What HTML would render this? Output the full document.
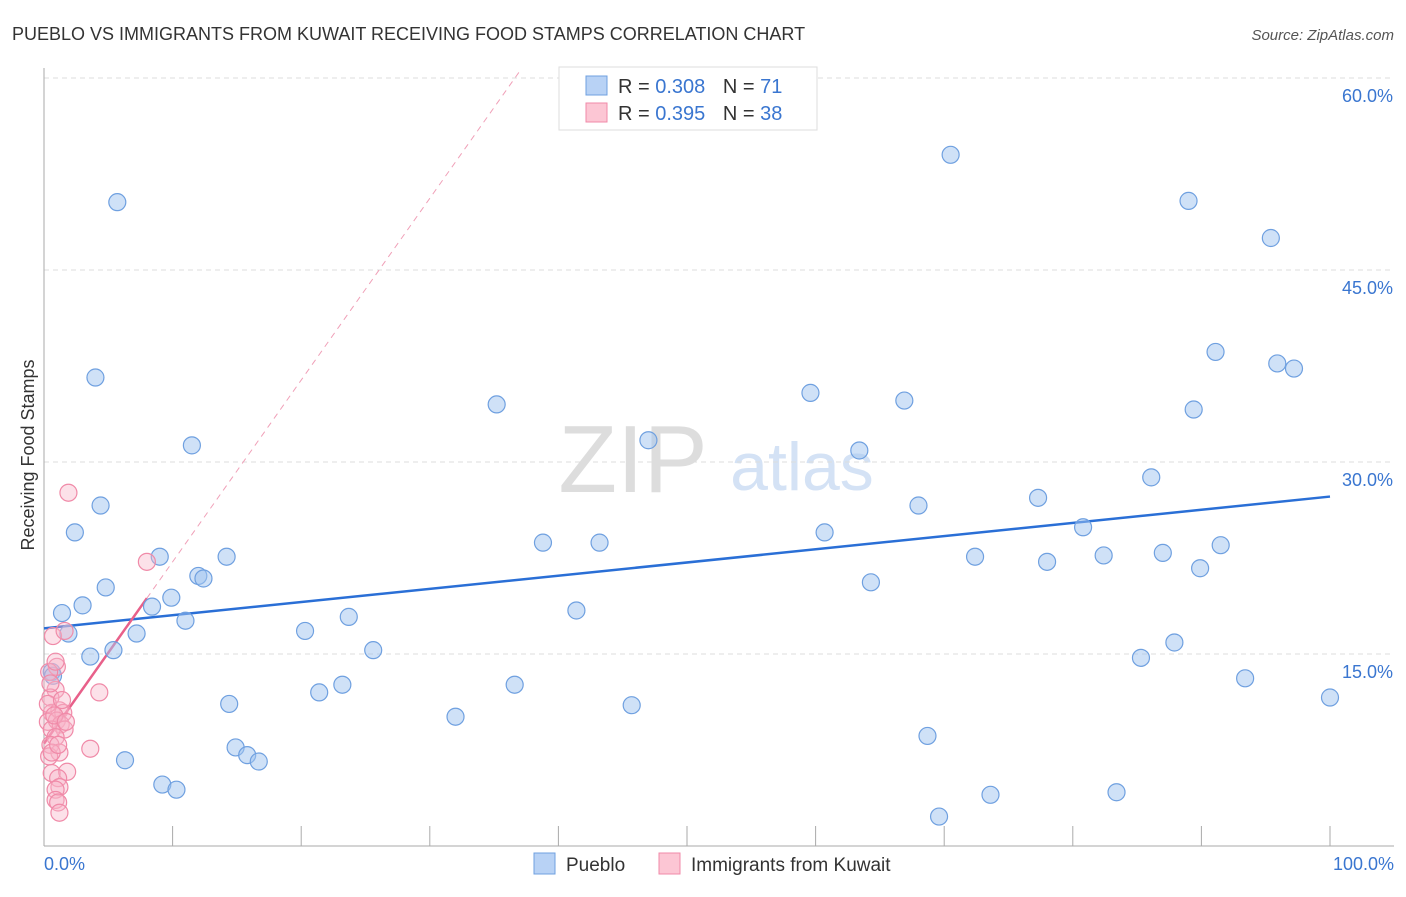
<!DOCTYPE html>
<html><head><meta charset="utf-8"><style>
body{margin:0;background:#fff;font-family:"Liberation Sans",sans-serif}
svg text{font-family:"Liberation Sans",sans-serif}
</style></head><body>
<svg id="chart" width="1406" height="892" xmlns="http://www.w3.org/2000/svg">
<text x="12" y="40" font-size="18" fill="#333">PUEBLO VS IMMIGRANTS FROM KUWAIT RECEIVING FOOD STAMPS CORRELATION CHART</text>
<text x="1394" y="40" font-size="15" fill="#555" text-anchor="end" font-style="italic">Source: ZipAtlas.com</text>
<text x="633" y="492" font-size="96" fill="#ddd" text-anchor="middle" font-family="Liberation Serif">ZIP</text>
<text x="802" y="490" font-size="68" fill="#d4e2f5" text-anchor="middle">atlas</text>
<g id="grid"></g><g id="axes"></g><g id="lines"></g><g id="pts"></g>
<text transform="translate(34,455) rotate(-90)" font-size="18" fill="#333" text-anchor="middle">Receiving Food Stamps</text>
<text x="44" y="870" font-size="18" fill="#3a76d0">0.0%</text>
<text x="1394" y="870" font-size="18" fill="#3a76d0" text-anchor="end">100.0%</text>
<g>
<rect x="559" y="67" width="258" height="63" fill="#fff" stroke="#ddd"/>
<rect x="586" y="76" width="21" height="19" fill="#b8d2f5" stroke="#6fa0e0"/>
<rect x="586" y="103" width="21" height="19" fill="#fcc6d4" stroke="#f08aa8"/>
<text x="618" y="93" font-size="20" fill="#333">R = <tspan fill="#3a76d0">0.308</tspan>  <tspan dx="12">N = </tspan><tspan fill="#3a76d0">71</tspan></text>
<text x="618" y="120" font-size="20" fill="#333">R = <tspan fill="#3a76d0">0.395</tspan>  <tspan dx="12">N = </tspan><tspan fill="#3a76d0">38</tspan></text>
</g>
<g>
<rect x="534" y="853" width="21" height="21" fill="#b8d2f5" stroke="#6fa0e0"/>
<text x="566" y="871" font-size="19" fill="#333">Pueblo</text>
<rect x="659" y="853" width="21" height="21" fill="#fcc6d4" stroke="#f08aa8"/>
<text x="691" y="871" font-size="19" fill="#333">Immigrants from Kuwait</text>
</g>
</svg>
<script>
const yTicks=[15,30,45,60];
const yTickLabels=["15.0%","30.0%","45.0%","60.0%"];
const xTicks=[0,10,20,30,40,50,60,70,80,90,100];
const blueX=[5.7,4.0,11.5,4.4,2.4,9.0,14.2,4.8,12.0,12.4,9.9,1.4,3.0,8.4,1.9,7.2,11.0,3.6,5.4,20.3,23.7,25.6,23.2,21.4,14.4,6.3,14.9,15.8,16.7,9.2,10.3,35.2,38.8,43.2,41.4,36.6,32.0,45.7,47.0,59.6,63.4,66.9,60.7,64.3,68.0,70.5,72.4,68.7,69.6,73.6,77.3,78.0,80.8,82.4,86.1,87.0,85.3,87.9,83.4,89.0,89.4,91.1,89.9,91.5,93.4,95.4,95.9,97.2,100,0.6,0.7];
const blueY=[50.3,36.6,31.3,26.6,24.5,22.6,22.6,20.2,21.1,20.9,19.4,18.2,18.8,18.7,16.6,16.6,17.6,14.8,15.3,16.8,17.9,15.3,12.6,12.0,11.1,6.7,7.7,7.1,6.6,4.8,4.4,34.5,23.7,23.7,18.4,12.6,10.1,11.0,31.7,35.4,30.9,34.8,24.5,20.6,26.6,54.0,22.6,8.6,2.3,4.0,27.2,22.2,24.9,22.7,28.8,22.9,14.7,15.9,4.2,50.4,34.1,38.6,21.7,23.5,13.1,47.5,37.7,37.3,11.6,13.6,13.3];
const pinkX=[1.9,8.0,0.7,1.6,1.0,0.4,0.9,4.3,0.5,0.6,1.2,1.5,0.3,1.0,1.3,1.6,0.6,0.9,3.6,0.5,1.2,0.4,0.6,1.8,1.1,1.2,0.9,0.9,1.1,1.2,0.6,1.1,0.3,0.8,1.7,1.4,0.5,0.9];
const pinkY=[27.6,22.2,16.4,16.8,14.0,13.6,12.2,12.0,11.6,10.4,10.6,10.4,9.7,9.8,9.5,9.1,9.1,8.5,7.6,7.9,7.3,7.0,5.7,5.8,5.3,4.6,4.4,3.6,3.4,2.6,7.3,7.9,11.1,10.2,9.7,11.4,12.7,14.4];
const blueTrend=[17.0,27.3]; // y at x=0 and x=100
const pinkTrend=[8.0,1.42]; // intercept, slope
const NS="http://www.w3.org/2000/svg";
const X=v=>44+v*12.86, Y=v=>846-v*12.8;
function mk(tag,attrs,parent){const e=document.createElementNS(NS,tag);for(const k in attrs)e.setAttribute(k,attrs[k]);document.getElementById(parent).appendChild(e);return e;}
yTicks.forEach((t,i)=>{
 const l=mk('line',{x1:44,x2:1394,y1:Y(t),y2:Y(t),stroke:'#ddd','stroke-dasharray':'5,4'},'grid');
 
 
 const tx=mk('text',{x:1393,y:Y(t)+24,'font-size':18,fill:'#3a76d0','text-anchor':'end'},'grid');
 tx.textContent=yTickLabels[i];
 
 
});
const ax=mk('line',{x1:44,x2:1394,y1:846,y2:846,stroke:'#aaa'},'axes');


const ay=mk('line',{x1:44,x2:44,y1:68,y2:846,stroke:'#aaa'},'axes');


xTicks.forEach(t=>{const l=mk('line',{x1:X(t),x2:X(t),y1:826,y2:846,stroke:'#aaa'},'axes');
 
 });
const bl=mk('line',{x1:X(0),y1:Y(blueTrend[0]),x2:X(100),y2:Y(blueTrend[1]),stroke:'#2a6fd6','stroke-width':2.5},'lines');


const pd=mk('line',{x1:X(8),y1:Y(pinkTrend[0]+pinkTrend[1]*8),x2:X(37),y2:Y(pinkTrend[0]+pinkTrend[1]*37),stroke:'#f0a0b8','stroke-width':1,'stroke-dasharray':'6,5'},'lines');


const pl=mk('line',{x1:X(0),y1:Y(pinkTrend[0]),x2:X(8),y2:Y(pinkTrend[0]+pinkTrend[1]*8),stroke:'#e8608a','stroke-width':2.5},'lines');


blueX.forEach((v,i)=>{const c=mk('circle',{cx:X(v),cy:Y(blueY[i]),r:8.5,fill:'rgba(160,196,240,0.5)',stroke:'#6fa0e0','stroke-width':1.2},'pts');
 
 });
pinkX.forEach((v,i)=>{const c=mk('circle',{cx:X(v),cy:Y(pinkY[i]),r:8.5,fill:'rgba(248,180,200,0.4)',stroke:'#f08aa8','stroke-width':1.2},'pts');
 
 });
</script>
</body></html>
